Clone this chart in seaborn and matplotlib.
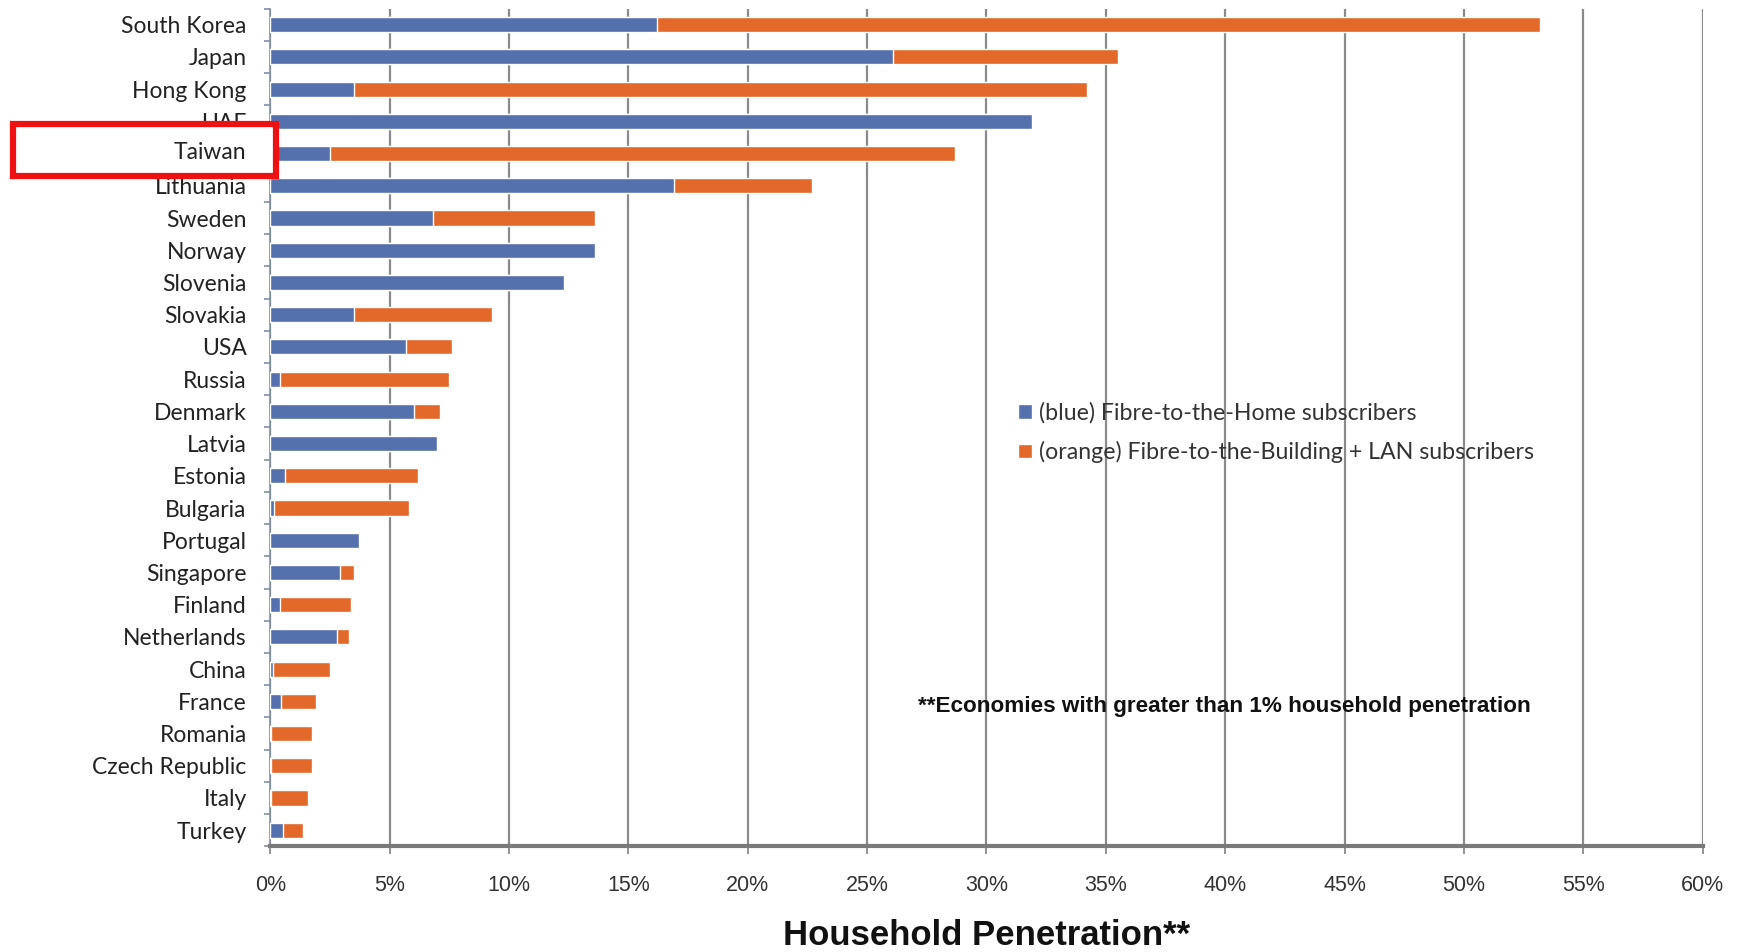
import matplotlib
matplotlib.use("Agg")
import matplotlib.pyplot as plt
import seaborn as sns
import numpy as np
import pandas as pd
from matplotlib.patches import Rectangle
from matplotlib.ticker import PercentFormatter, FixedLocator

countries = ["South Korea", "Japan", "Hong Kong", "UAE", "Taiwan", "Lithuania", "Sweden",
             "Norway", "Slovenia", "Slovakia", "USA", "Russia", "Denmark", "Latvia", "Estonia",
             "Bulgaria", "Portugal", "Singapore", "Finland", "Netherlands", "China", "France",
             "Romania", "Czech Republic", "Italy", "Turkey"]
ftth = [16.2, 26.1, 3.5, 31.9, 2.5, 16.9, 6.8, 13.6, 12.3, 3.5, 5.7, 0.4, 6.0, 7.0, 0.6,
        0.15, 3.7, 2.9, 0.4, 2.8, 0.1, 0.45, 0.05, 0.05, 0.05, 0.55]
fttb_lan = [37.0, 9.4, 30.7, 0.0, 26.2, 5.8, 6.8, 0.0, 0.0, 5.8, 1.9, 7.1, 1.1, 0.0, 5.6,
            5.65, 0.0, 0.6, 3.0, 0.5, 2.4, 1.45, 1.7, 1.7, 1.55, 0.8]
legend_labels = ["(blue) Fibre-to-the-Home subscribers",
                 "(orange) Fibre-to-the-Building + LAN subscribers"]
x_ticks = list(range(0, 61, 5))

BLUE = "#5571AD"
ORANGE = "#E2692A"

df = pd.DataFrame({"country": countries, "ftth": ftth, "fttb": fttb_lan})
df["total"] = df["ftth"] + df["fttb"]

sns.set_theme(style="white")
plt.rcParams["font.family"] = ["Lato", "DejaVu Sans"]

fig = plt.figure(figsize=(17.37, 9.52), dpi=100)
ax = fig.add_axes([0.1556, 0.111, 0.8246, 0.880])

sns.barplot(data=df, y="country", x="total", color=ORANGE, orient="h", width=0.47,
            saturation=1, ax=ax, label=legend_labels[1], zorder=3)
sns.barplot(data=df, y="country", x="ftth", color=BLUE, orient="h", width=0.47,
            saturation=1, ax=ax, label=legend_labels[0], zorder=3)

ax.set_xlim(0, 60)
ax.set_ylim(len(countries) - 0.5, -0.5)
ax.xaxis.set_major_locator(FixedLocator(x_ticks))
ax.xaxis.set_major_formatter(PercentFormatter(decimals=0))
ax.grid(axis="x", color="#8a8a8a", linewidth=1.6, zorder=0)
ax.set_axisbelow(True)
for s in ["top", "right"]:
    ax.spines[s].set_visible(False)
ax.spines["left"].set_color("#7f8fa8")
ax.spines["left"].set_linewidth(1.2)
ax.spines["bottom"].set_color("#7a7a7a")
ax.spines["bottom"].set_linewidth(3)

ax.tick_params(axis="x", which="major", length=6, width=1.3, color="#8a8a8a", pad=15,
               labelsize=15.5, labelcolor="#333333", bottom=True)
ax.tick_params(axis="y", which="major", length=0, pad=17, labelsize=16.5, labelcolor="#222222")
ax.yaxis.set_minor_locator(FixedLocator(np.arange(-0.5, len(countries), 1.0)))
ax.tick_params(axis="y", which="minor", length=4, width=1.2, color="#7f8fa8", left=True)
for t in ax.get_xticklabels():
    t.set_fontfamily(["Liberation Sans", "DejaVu Sans"])

ax.set_ylabel("")
ax.set_xlabel("Household Penetration**", fontsize=25, fontweight="bold",
              fontfamily=["Liberation Sans", "DejaVu Sans"], color="#111111", labelpad=16)

handles, labels = ax.get_legend_handles_labels()
order = [labels.index(legend_labels[0]), labels.index(legend_labels[1])]
ax.legend([handles[i] for i in order], [labels[i] for i in order],
          loc="upper left", bbox_to_anchor=(0.5077, 0.555), frameon=False, fontsize=16.7,
          handlelength=0.6, handleheight=0.6, handletextpad=0.3, labelspacing=0.75,
          labelcolor="#333333")

ax.text(0.452, 0.1665, "**Economies with greater than 1% household penetration",
        transform=ax.transAxes, fontsize=16.2, fontweight="bold",
        fontfamily=["Liberation Sans", "DejaVu Sans"], color="#111111", va="center", ha="left")

# red highlight box around Taiwan
ax.set_yticks(range(len(countries)))
ax.set_yticklabels([c if c != "Taiwan" else "" for c in countries])
rect = Rectangle((0.0075, 1 - 159 / 859), (247 - 10) / 1568, (159 - 112) / 859,
                 transform=fig.transFigure, facecolor="white", edgecolor="#EE1111",
                 linewidth=4.5, zorder=10)
fig.add_artist(rect)
fig.text(222 / 1568, 1 - 138 / 859, "Taiwan", fontsize=16.5, color="#222222",
         ha="right", va="center", zorder=11)

fig.savefig("out.png", dpi=100, facecolor="white")
